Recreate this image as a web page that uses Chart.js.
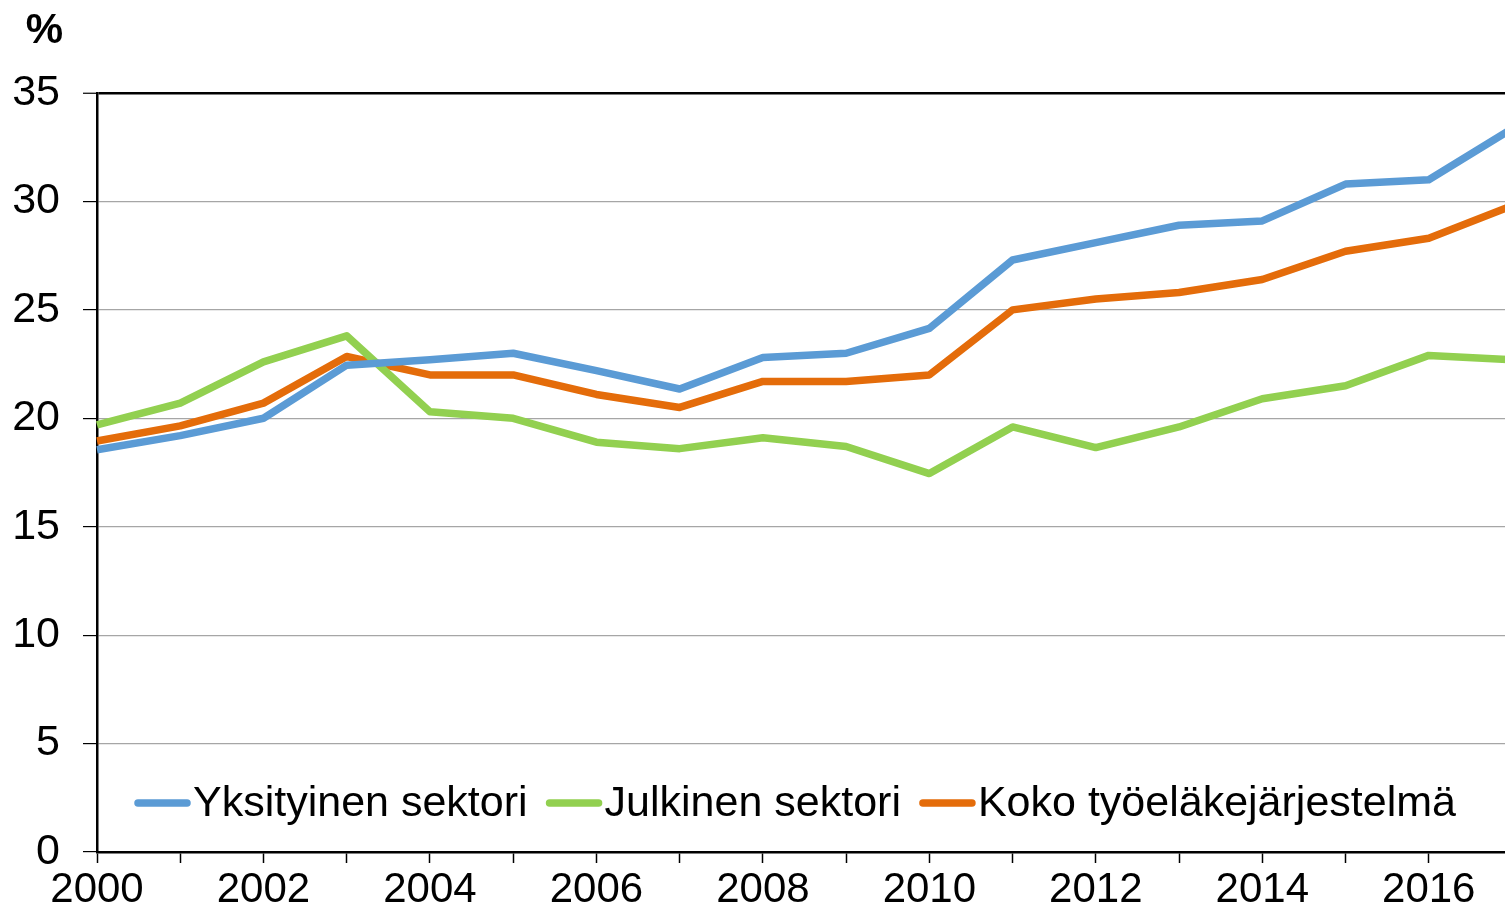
<!DOCTYPE html>
<html>
<head>
<meta charset="utf-8">
<style>
  html, body { margin: 0; padding: 0; background: #fff; overflow: hidden; }
  #wrap { width: 1518px; height: 909px; }
</style>
<script src="https://cdn.jsdelivr.net/npm/chart.js@4/dist/chart.umd.min.js"></script>
</head>
<body>
<div id="wrap"><canvas id="c" width="1518" height="909"></canvas></div>
<script>
const years = ['2000','2001','2002','2003','2004','2005','2006','2007','2008','2009','2010','2011','2012','2013','2014','2015','2016','2017'];
const yksityinen = [18.55, 19.2, 20.0, 22.45, 22.7, 23.0, 22.2, 21.35, 22.8, 23.0, 24.15, 27.3, 28.1, 28.9, 29.1, 30.8, 31.0, 33.35];
const julkinen   = [19.7, 20.7, 22.6, 23.8, 20.3, 20.0, 18.9, 18.6, 19.1, 18.7, 17.45, 19.6, 18.65, 19.6, 20.9, 21.5, 22.9, 22.7];
const koko       = [18.95, 19.65, 20.7, 22.85, 22.0, 22.0, 21.1, 20.5, 21.7, 21.7, 22.0, 25.0, 25.5, 25.8, 26.4, 27.7, 28.3, 29.8];
const seriesNames = ['Yksityinen sektori', 'Julkinen sektori', 'Koko työeläkejärjestelmä'];
const yTicks = [0, 5, 10, 15, 20, 25, 30, 35];
const unitLabel = '%';

const FONT = '"Liberation Sans", Arial, sans-serif';
const FS = 42;

const unitPlugin = {
  id: 'unitLabel',
  afterDraw(chart) {
    const ctx = chart.ctx;
    ctx.save();
    ctx.font = 'bold ' + FS + 'px ' + FONT;
    ctx.fillStyle = '#000';
    ctx.textAlign = 'right';
    ctx.textBaseline = 'middle';
    ctx.fillText(unitLabel, chart.chartArea.left - 34, 31);
    ctx.restore();
  }
};

const insideLegend = {
  id: 'insideLegend',
  afterDatasetsDraw(chart) {
    const ctx = chart.ctx;
    const area = chart.chartArea;
    ctx.save();
    ctx.font = '43px ' + FONT;
    ctx.textBaseline = 'middle';
    ctx.textAlign = 'left';
    let x = area.left + 38;
    const y = area.bottom - 49;
    chart.data.datasets.forEach((ds) => {
      ctx.strokeStyle = ds.borderColor;
      ctx.lineWidth = 7.5;
      ctx.lineCap = 'round';
      ctx.beginPath();
      ctx.moveTo(x + 3, y);
      ctx.lineTo(x + 52, y);
      ctx.stroke();
      ctx.fillStyle = '#000';
      ctx.fillText(ds.label, x + 58, y + 1);
      x += 58 + ctx.measureText(ds.label).width + 19;
    });
    ctx.restore();
  }
};

const colors = ['#5B9BD5', '#92D050', '#E46C0A'];
const values = [yksityinen, julkinen, koko];

new Chart(document.getElementById('c'), {
  type: 'line',
  data: {
    labels: years,
    datasets: seriesNames.map((name, i) => ({
      label: name,
      data: values[i],
      borderColor: colors[i],
      backgroundColor: colors[i],
      borderWidth: 7.5,
      pointRadius: 0,
      tension: 0,
      borderJoinStyle: 'round'
    }))
  },
  options: {
    responsive: false,
    animation: false,
    devicePixelRatio: 1,
    layout: { padding: { top: 93, left: 0, right: 1, bottom: 0 } },
    plugins: {
      legend: { display: false },
      tooltip: { enabled: false },
      title: { display: false }
    },
    scales: {
      x: {
        type: 'category',
        offset: false,
        afterFit: (axis) => { axis.height = 57; },
        grid: {
          display: true,
          drawOnChartArea: false,
          drawTicks: true,
          tickLength: 11,
          tickColor: '#000',
          tickWidth: 1.5
        },
        border: { display: true, color: '#000', width: 2.5 },
        ticks: {
          autoSkip: false,
          maxRotation: 0,
          minRotation: 0,
          padding: 6,
          color: '#000',
          font: { family: FONT, size: FS, lineHeight: 1 },
          callback: function (val) {
            const lab = this.getLabelForValue(val);
            return (Number(lab) % 2 === 0) ? lab : '';
          }
        }
      },
      y: {
        min: 0,
        max: 35,
        afterFit: (axis) => { axis.width = 97; },
        afterBuildTicks: (axis) => { axis.ticks = yTicks.map(v => ({ value: v })); },
        grid: {
          color: (c) => c.tick && c.tick.value === 35 ? '#000' : '#A6A6A6',
          lineWidth: (c) => c.tick && c.tick.value === 35 ? 2.5 : 1.2,
          tickLength: 14,
          tickColor: '#000',
          tickWidth: 1.2
        },
        border: { display: true, color: '#000', width: 2.5 },
        ticks: {
          padding: 23,
          color: '#000',
          font: { family: FONT, size: 43, lineHeight: 1 }
        }
      }
    }
  },
  plugins: [unitPlugin, insideLegend]
});
</script>
</body>
</html>
